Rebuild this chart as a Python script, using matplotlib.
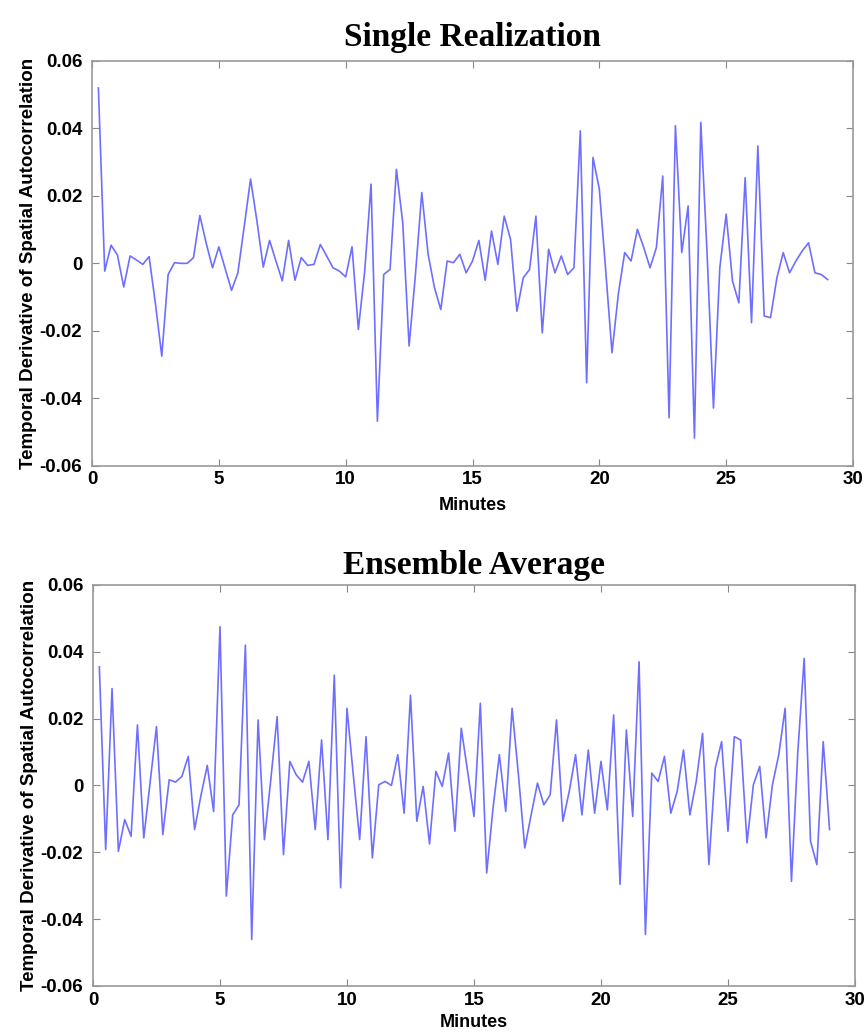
import numpy as np
import matplotlib
matplotlib.use("Agg")
import matplotlib.pyplot as plt

# sample step of the series (minutes)
STEP = 0.25

# Single realization, one row per minute (4 samples each)
single = [
    0.052, -0.0023, 0.0054, 0.0025,
    -0.007, 0.0022, 0.001, -0.0003,
    0.002, -0.012, -0.0275, -0.0033,
    0.0002, 0.0, 0.0, 0.0017,
    0.0142, 0.006, -0.0013, 0.0049,
    -0.0016, -0.008, -0.0028, 0.011,
    0.025, 0.0126, -0.0011, 0.0068,
    0.0007, -0.0052, 0.0068, -0.005,
    0.0017, -0.0006, -0.0003, 0.0056,
    0.0022, -0.0013, -0.0023, -0.004,
    0.0049, -0.0196, -0.0023, 0.0235,
    -0.0468, -0.0033, -0.0018, 0.0279,
    0.012, -0.0245, -0.0033, 0.021,
    0.0027, -0.0072, -0.0137, 0.0007,
    0.0002, 0.0027, -0.0028, 0.0007,
    0.0068, -0.005, 0.0096, -0.0003,
    0.014, 0.0071, -0.0142, -0.0043,
    -0.0018, 0.014, -0.0206, 0.0042,
    -0.0028, 0.0022, -0.0033, -0.0013,
    0.0393, -0.0354, 0.0314, 0.022,
    -0.002, -0.0265, -0.009, 0.0032,
    0.0007, 0.0101, 0.0047, -0.0013,
    0.0047, 0.0259, -0.0458, 0.0408,
    0.0032, 0.017, -0.0518, 0.0418,
    0.0027, -0.0429, -0.0013, 0.0146,
    -0.0052, -0.0117, 0.0254, -0.0176,
    0.0348, -0.0156, -0.0161, -0.0043,
    0.0032, -0.0028, 0.0007, 0.0037,
    0.0061, -0.0028, -0.0033, -0.0048,
]

# Ensemble average
ensemble = [
    0.0355, -0.0192, 0.029, -0.0197,
    -0.0102, -0.0152, 0.0181, -0.0157,
    0.001, 0.0176, -0.0147, 0.0017,
    0.001, 0.0027, 0.0087, -0.0132,
    -0.003, 0.006, -0.0078, 0.0475,
    -0.0331, -0.0088, -0.0058, 0.042,
    -0.0461, 0.0196, -0.0162, 0.0017,
    0.0206, -0.0207, 0.0072, 0.0032,
    0.001, 0.0072, -0.0132, 0.0136,
    -0.0162, 0.033, -0.0306, 0.0231,
    0.003, -0.0162, 0.0146, -0.0217,
    0.0002, 0.0012, 0.0, 0.0092,
    -0.0083, 0.027, -0.0107, -0.0003,
    -0.0175, 0.0042, -0.0003, 0.0097,
    -0.0137, 0.0171, 0.0042, -0.0093,
    0.0246, -0.0262, -0.0068, 0.0092,
    -0.0078, 0.0231, 0.0032, -0.0187,
    -0.0088, 0.0007, -0.0058, -0.0028,
    0.0196, -0.0107, -0.0018, 0.0092,
    -0.0088, 0.0106, -0.0083, 0.0072,
    -0.0073, 0.0211, -0.0296, 0.0166,
    -0.0093, 0.037, -0.0446, 0.0037,
    0.0012, 0.0087, -0.0083, -0.0018,
    0.0106, -0.0088, 0.0012, 0.0156,
    -0.0237, 0.0052, 0.0131, -0.0137,
    0.0146, 0.0136, -0.0172, 0.0002,
    0.0057, -0.0157, 0.0002, 0.0092,
    0.0231, -0.0287, 0.0101, 0.038,
    -0.0167, -0.0237, 0.0131, -0.0132,
]

titles = ["Single Realization", "Ensemble Average"]
x_ticks = [0, 5, 10, 15, 20, 25, 30]
y_ticks = [-0.06, -0.04, -0.02, 0, 0.02, 0.04, 0.06]
y_labels = ["-0.06", "-0.04", "-0.02", "0", "0.02", "0.04", "0.06"]

fig = plt.figure(figsize=(8.65, 10.32), dpi=100)
ax1 = fig.add_axes([0.1064, 0.5487, 0.8797, 0.3922])
ax2 = fig.add_axes([0.1075, 0.0446, 0.8809, 0.3886])

panels = [(ax1, single, titles[0], 11, 6), (ax2, ensemble, titles[1], 8, 4)]
for ax, data, title, tpad, xpad in panels:
    minutes = STEP * np.arange(1, len(data) + 1)
    ax.plot(minutes, data, color="#6f6fff", lw=1.2)
    ax.set_xlim(0, 30)
    ax.set_ylim(-0.06, 0.06)
    ax.set_xticks(x_ticks)
    ax.set_yticks(y_ticks)
    ax.set_yticklabels(y_labels)
    ax.tick_params(direction="in", top=True, right=True, length=5,
                   color="#888888", labelsize=13.5)
    ax.tick_params(axis="y", pad=7)
    ax.tick_params(axis="x", pad=4)
    for lab in ax.get_xticklabels() + ax.get_yticklabels():
        lab.set_fontweight("bold")
        lab.set_family("Liberation Sans")
    for sp in ax.spines.values():
        sp.set_color("#999999")
        sp.set_linewidth(1.2)
    ax.set_title(title, family="Liberation Serif", fontweight="bold",
                 fontsize=24, pad=tpad)
    ax.set_xlabel("Minutes", family="Liberation Sans", fontweight="bold",
                  fontsize=13, labelpad=xpad)
    ax.set_ylabel("Temporal Derivative of Spatial Autocorrelation",
                  family="Liberation Sans", fontweight="bold", fontsize=13.5,
                  labelpad=2)

fig.savefig("out.png", dpi=100)
